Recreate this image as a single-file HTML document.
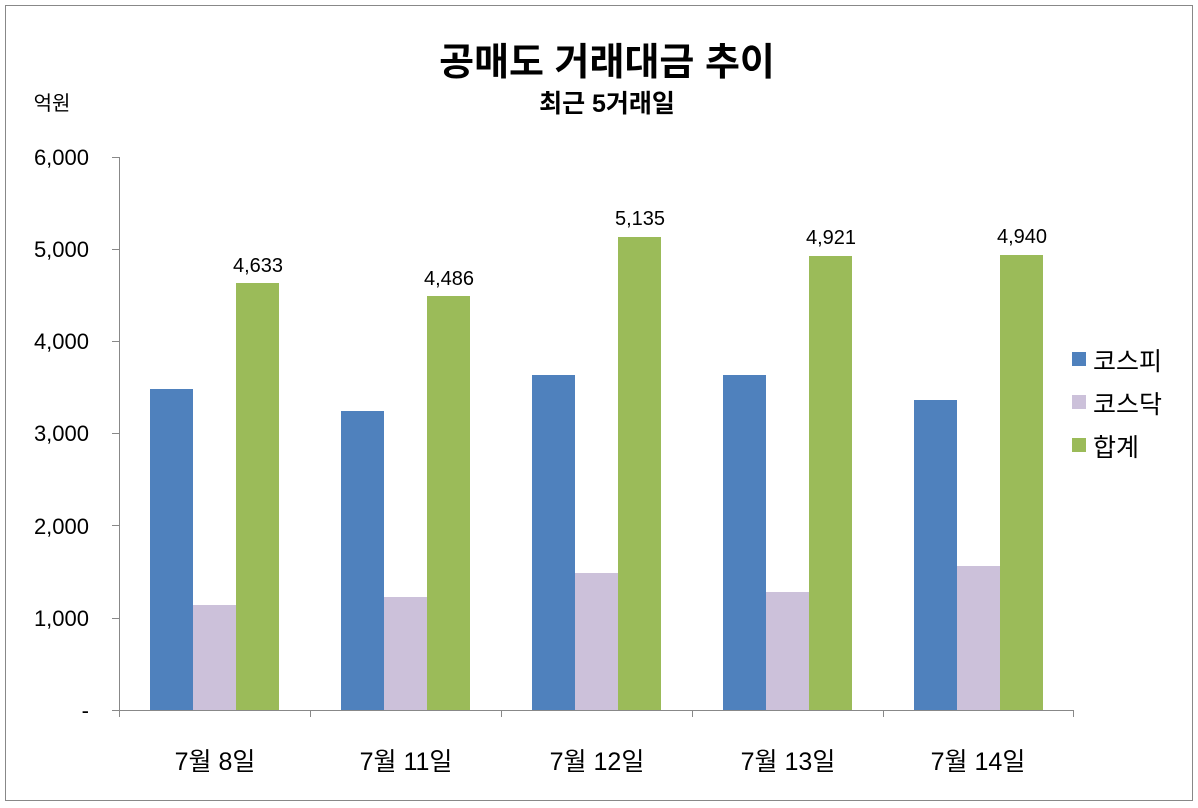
<!DOCTYPE html>
<html><head><meta charset="utf-8"><style>
html,body{margin:0;padding:0;background:#fff;}
svg{display:block;font-family:"Liberation Sans","Noto Sans CJK KR","NanumGothic",sans-serif;}
</style></head><body>
<svg width="1198" height="808" viewBox="0 0 1198 808">
<rect x="0" y="0" width="1198" height="808" fill="#fff"/>
<rect x="5.5" y="5.5" width="1187" height="795" fill="none" stroke="#888" stroke-width="1"/>
<text x="607" y="75" text-anchor="middle" font-size="38" font-weight="bold" fill="#000">공매도 거래대금 추이</text>
<text x="607" y="112" text-anchor="middle" font-size="25" font-weight="bold" fill="#000">최근 5거래일</text>
<text x="52" y="110" text-anchor="middle" font-size="20" fill="#000">억원</text>
<g font-size="22" fill="#000" text-anchor="end">
<text x="89" y="165">6,000</text>
<text x="89" y="257">5,000</text>
<text x="89" y="349">4,000</text>
<text x="89" y="441">3,000</text>
<text x="89" y="534">2,000</text>
<text x="89" y="626">1,000</text>
<text x="89" y="718">-</text>
</g>
<g stroke="#888" stroke-width="1">
<line x1="119.5" y1="157" x2="119.5" y2="717"/>
<line x1="112" y1="157.5" x2="119" y2="157.5"/>
<line x1="112" y1="249.5" x2="119" y2="249.5"/>
<line x1="112" y1="341.5" x2="119" y2="341.5"/>
<line x1="112" y1="433.5" x2="119" y2="433.5"/>
<line x1="112" y1="525.5" x2="119" y2="525.5"/>
<line x1="112" y1="618.5" x2="119" y2="618.5"/>
<line x1="112" y1="710.5" x2="1073" y2="710.5"/>
<line x1="310.5" y1="710" x2="310.5" y2="717"/>
<line x1="501.5" y1="710" x2="501.5" y2="717"/>
<line x1="692.5" y1="710" x2="692.5" y2="717"/>
<line x1="883.5" y1="710" x2="883.5" y2="717"/>
<line x1="1073.5" y1="710" x2="1073.5" y2="717"/>
</g>
<g>
<rect x="150" y="389" width="43" height="321" fill="#4F81BD"/>
<rect x="193" y="605" width="43" height="105" fill="#CCC1DA"/>
<rect x="236" y="283" width="43" height="427" fill="#9BBB59"/>
<rect x="341" y="411" width="43" height="299" fill="#4F81BD"/>
<rect x="384" y="597" width="43" height="113" fill="#CCC1DA"/>
<rect x="427" y="296" width="43" height="414" fill="#9BBB59"/>
<rect x="532" y="375" width="43" height="335" fill="#4F81BD"/>
<rect x="575" y="573" width="43" height="137" fill="#CCC1DA"/>
<rect x="618" y="237" width="43" height="473" fill="#9BBB59"/>
<rect x="723" y="375" width="43" height="335" fill="#4F81BD"/>
<rect x="766" y="592" width="43" height="118" fill="#CCC1DA"/>
<rect x="809" y="256" width="43" height="454" fill="#9BBB59"/>
<rect x="914" y="400" width="43" height="310" fill="#4F81BD"/>
<rect x="957" y="566" width="43" height="144" fill="#CCC1DA"/>
<rect x="1000" y="255" width="43" height="455" fill="#9BBB59"/>
</g>
<g font-size="20" fill="#000" text-anchor="middle">
<text x="258" y="272">4,633</text>
<text x="449" y="285">4,486</text>
<text x="640" y="225">5,135</text>
<text x="831" y="244">4,921</text>
<text x="1022" y="243">4,940</text>
</g>
<g font-size="25" fill="#000" text-anchor="middle">
<text x="215" y="770">7월 8일</text>
<text x="406" y="770">7월 11일</text>
<text x="597" y="770">7월 12일</text>
<text x="788" y="770">7월 13일</text>
<text x="978" y="770">7월 14일</text>
</g>
<rect x="1072" y="352" width="14" height="14" fill="#4F81BD"/>
<rect x="1072" y="395" width="14" height="14" fill="#CCC1DA"/>
<rect x="1072" y="438" width="14" height="14" fill="#9BBB59"/>
<g font-size="25" fill="#000">
<text x="1093" y="370">코스피</text>
<text x="1093" y="413">코스닥</text>
<text x="1093" y="456">합계</text>
</g>
</svg>
</body></html>
